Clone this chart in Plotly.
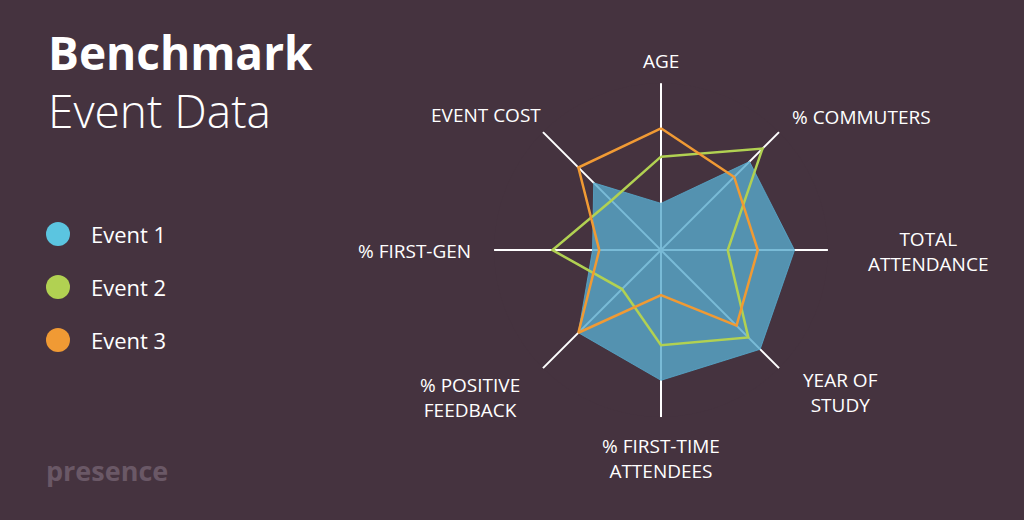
import plotly.graph_objects as go

categories = ["AGE", "% COMMUTERS", "TOTAL ATTENDANCE", "YEAR OF STUDY",
              "% FIRST-TIME ATTENDEES", "% POSITIVE FEEDBACK", "% FIRST-GEN", "EVENT COST"]
event1 = [0.28, 0.75, 0.80, 0.84, 0.78, 0.70, 0.41, 0.57]
event2 = [0.56, 0.86, 0.40, 0.74, 0.57, 0.33, 0.65, 0.42]
event3 = [0.73, 0.62, 0.58, 0.64, 0.27, 0.70, 0.37, 0.70]
series_names = ["Event 1", "Event 2", "Event 3"]
colors = ["#5bc5e0", "#b1d152", "#f09a34"]

bg = "#45333f"
fig = go.Figure()

def closed(v):
    return v + v[:1]

fig.add_trace(go.Scatterpolar(r=closed(event1), theta=closed(categories), fill="toself",
                              fillcolor="rgba(88,170,205,0.8)", line=dict(color="rgba(88,170,205,0.8)", width=1),
                              mode="lines", showlegend=False))
fig.add_trace(go.Scatterpolar(r=closed(event2), theta=closed(categories), mode="lines",
                              line=dict(color=colors[1], width=2.5), showlegend=False))
fig.add_trace(go.Scatterpolar(r=closed(event3), theta=closed(categories), mode="lines",
                              line=dict(color=colors[2], width=2.5), showlegend=False))

fig.update_layout(
    width=1024, height=520, margin=dict(l=0, r=0, t=0, b=0),
    paper_bgcolor=bg, plot_bgcolor=bg, showlegend=False,
    font=dict(family="Open Sans", color="white"),
    polar=dict(
        bgcolor=bg,
        domain=dict(x=[0.482, 0.809], y=[0.198, 0.840]),
        radialaxis=dict(range=[0, 1], visible=False),
        angularaxis=dict(rotation=90, direction="clockwise", showticklabels=False,
                         ticks="", showline=False, gridcolor="white", gridwidth=1.5),
    ),
)

def px(x, y):
    return x / 1024, 1 - y / 520

# axis labels placed by hand around the chart
label_pos = [(661, 61), (861, 117), (928, 251), (840, 392),
             (661, 458), (470, 397), (414, 251), (486, 115)]
label_text = ["AGE", "% COMMUTERS", "TOTAL<br>ATTENDANCE", "YEAR OF<br>STUDY",
              "% FIRST-TIME<br>ATTENDEES", "% POSITIVE<br>FEEDBACK", "% FIRST-GEN", "EVENT COST"]
for (x, y), t in zip(label_pos, label_text):
    ax, ay = px(x, y)
    fig.add_annotation(x=ax, y=ay, xref="paper", yref="paper", text=t, xanchor="center", yanchor="middle",
                       showarrow=False, font=dict(size=19, color="white"), align="center")

ax, ay = px(46, 52)
fig.add_annotation(x=ax, y=ay, xref="paper", yref="paper", xanchor="left", yanchor="middle",
                   text="<b>Benchmark</b>", showarrow=False, font=dict(size=46, color="white"))
ax, ay = px(46, 110)
fig.add_annotation(x=ax, y=ay, xref="paper", yref="paper", xanchor="left", yanchor="middle",
                   text="Event Data", showarrow=False,
                   font=dict(size=46, color="white", family="Open Sans", weight=300))

# legend
for i, (name, c) in enumerate(zip(series_names, colors)):
    cy = 234 + i * 53
    fig.add_shape(type="circle", xref="paper", yref="paper",
                  x0=46 / 1024, x1=70 / 1024, y0=1 - (cy + 12) / 520, y1=1 - (cy - 12) / 520,
                  fillcolor=c, line=dict(width=0))
    ax, ay = px(89, cy)
    fig.add_annotation(x=ax, y=ay, xref="paper", yref="paper", xanchor="left", yanchor="middle",
                       text=name, showarrow=False, font=dict(size=22, color="white"))

ax, ay = px(44, 470)
fig.add_annotation(x=ax, y=ay, xref="paper", yref="paper", xanchor="left", yanchor="middle",
                   text="<b>presence</b>", showarrow=False, font=dict(size=27, color="#6a5866"))

fig.write_html("out.html", config={"displayModeBar": False},
               post_script="document.body.style.margin='0';")
